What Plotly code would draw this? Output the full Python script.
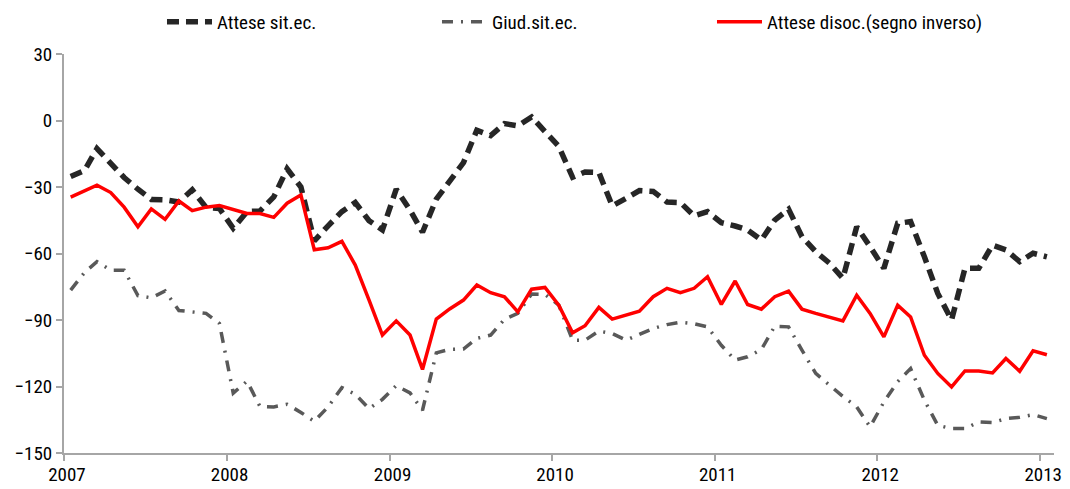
import pandas as pd
import plotly.graph_objects as go

# Monthly observations, Jan 2007 - Jan 2013
months = pd.date_range("2007-01-01", "2013-01-01", freq="MS") + pd.Timedelta(days=15)

attese_sit = [-25.3, -22.6, -12.7, -19.5, -25.7, -31.0, -35.6, -35.8, -36.8, -31.3, -39.2, -39.7,
              -48.6, -41.1, -40.8, -34.5, -21.8, -30.0, -54.3, -47.5, -41.1, -37.0, -45.2, -49.4,
              -31.0, -40.4, -50.4, -35.5, -27.6, -19.0, -4.4, -6.8, -1.4, -2.4, 1.6, -5.0,
              -11.7, -25.6, -23.2, -23.4, -38.5, -35.1, -31.6, -32.0, -36.8, -37.0, -43.0, -41.1,
              -46.1, -47.6, -49.4, -53.9, -44.9, -40.0, -52.4, -59.2, -64.4, -71.2, -47.9, -56.9,
              -66.7, -46.4, -45.6, -61.5, -78.0, -90.0, -66.7, -66.7, -56.2, -58.4, -63.7, -59.9,
              -61.5]

giud_sit = [-76.5, -68.6, -63.7, -67.5, -67.5, -79.0, -80.0, -76.9, -85.7, -86.2, -87.0, -91.6,
            -123.0, -117.6, -129.0, -129.2, -128.0, -131.7, -135.7, -129.2, -120.5, -123.5, -130.0, -125.8,
            -119.6, -122.9, -130.7, -104.8, -103.2, -103.1, -98.3, -96.8, -89.7, -87.0, -78.3, -78.4,
            -83.3, -99.1, -99.1, -95.0, -96.1, -99.1, -96.5, -93.8, -92.1, -91.0, -91.7, -93.1,
            -101.4, -108.1, -106.6, -103.3, -92.8, -93.1, -103.6, -114.1, -119.4, -124.5, -129.2, -138.2,
            -127.0, -117.8, -111.9, -126.2, -137.5, -139.0, -139.0, -136.0, -136.3, -134.5, -133.9, -132.7,
            -134.5]

attese_disoc = [-34.6, -31.9, -29.2, -32.5, -39.1, -47.9, -39.9, -44.6, -36.3, -40.7, -39.1, -38.4,
                -40.2, -41.9, -42.0, -43.7, -37.3, -33.6, -58.3, -57.4, -54.5, -65.2, -81.0, -96.8,
                -90.4, -96.8, -112.3, -89.6, -85.0, -81.0, -74.2, -77.7, -79.5, -86.3, -76.1, -75.3,
                -83.3, -95.8, -92.6, -84.3, -89.6, -87.8, -86.0, -79.5, -75.7, -77.7, -75.7, -70.5,
                -83.0, -72.4, -83.0, -85.1, -79.5, -77.0, -85.1, -87.0, -88.8, -90.4, -78.8, -87.0,
                -97.6, -83.3, -88.6, -105.9, -114.1, -120.2, -113.0, -113.0, -113.9, -107.4, -113.1, -103.9,
                -105.7]

series_names = ["Attese sit.ec.", "Giud.sit.ec.", "Attese disoc.(segno inverso)"]
y_ticks = [30, 0, -30, -60, -90, -120, -150]

FONT = "Liberation Sans Narrow, Arial Narrow, Roboto Condensed, Liberation Sans, Arial"
AXIS_COLOR = "#a6a6a6"

fig = go.Figure()
fig.add_trace(go.Scatter(x=months, y=attese_sit, name=series_names[0], mode="lines",
                         line=dict(color="#262626", width=5.5, dash="12px,7px")))
fig.add_trace(go.Scatter(x=months, y=giud_sit, name=series_names[1], mode="lines",
                         line=dict(color="#595959", width=3.5, dash="11px,8px,2px,8px")))
fig.add_trace(go.Scatter(x=months, y=attese_disoc, name=series_names[2], mode="lines",
                         line=dict(color="#ff0000", width=3.5)))

xrange = ["2007-01-01", "2013-02-01"]
common_x = dict(range=xrange, type="date", tick0="2007-01-01", dtick="M12",
                tickcolor=AXIS_COLOR, tickwidth=1.5, ticklen=6, showgrid=False, zeroline=False)
common_y = dict(range=[-150, 30], tickvals=y_ticks, tickcolor=AXIS_COLOR, tickwidth=1.5,
                ticklen=6, showgrid=False, zeroline=False)

# the page body adds an 8px offset, so the figure is sized to fit the 1070x489 window
fig.update_layout(
    width=1062, height=481,
    margin=dict(l=56, r=16, t=46, b=36, autoexpand=False),
    paper_bgcolor="white", plot_bgcolor="white",
    font=dict(family=FONT, size=19, color="#000000"),
    showlegend=True,
    legend=dict(orientation="h", xref="container", yref="container", x=0.145, y=0.971,
                xanchor="left", yanchor="middle", font=dict(size=19),
                entrywidth=215, entrywidthmode="pixels", itemwidth=45, bgcolor="rgba(0,0,0,0)"),
    xaxis=dict(**common_x, ticks="outside", showline=True, linecolor=AXIS_COLOR, linewidth=2,
               tickformat="%Y", ticklabelstandoff=-3, ticklabelshift=3),
    yaxis=dict(**common_y, ticks="outside", showline=True, linecolor=AXIS_COLOR, linewidth=2),
    xaxis2=dict(**common_x, overlaying="x", matches="x", ticks="inside", showticklabels=False,
                showline=False, anchor="y"),
    yaxis2=dict(**common_y, overlaying="y", matches="y", ticks="inside", showticklabels=False,
                showline=False, anchor="x"),
)

fig.write_html("out.html")
